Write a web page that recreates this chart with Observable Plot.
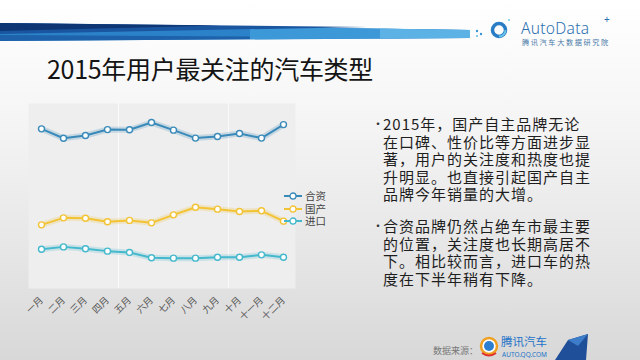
<!DOCTYPE html>
<html><head><meta charset="utf-8">
<script src="https://cdn.jsdelivr.net/npm/d3@7"></script>
<script src="https://cdn.jsdelivr.net/npm/@observablehq/plot@0.6"></script>
<style>
html,body{margin:0;padding:0;}
body{width:640px;height:360px;overflow:hidden;position:relative;font-family:"Noto Sans CJK SC","Noto Sans",sans-serif;
background:linear-gradient(180deg,#ffffff 0%,#f6f6f6 30%,#e6e6e6 70%,#d8d8d8 100%);}
.abs{position:absolute;}
#title{left:47px;top:50px;font-size:25px;color:#141414;letter-spacing:-0.3px;white-space:nowrap;}
#notes{left:372px;top:115px;width:250px;font-size:15px;line-height:17.6px;letter-spacing:1px;color:#1e1e1e;}
.para{position:relative;padding-left:11px;white-space:nowrap;}
.para:before{content:"•";position:absolute;left:0;top:0;font-size:12px;color:#333;}
.para+.para{margin-top:14px;}
#legend{left:283px;top:190px;font-size:10.5px;color:#444;line-height:12.5px;}
#legend .row{display:flex;align-items:center;height:12.6px;}
#legend svg{margin-right:2px;}
#chart{left:0;top:95px;}
#src{left:433px;top:344px;font-size:9px;color:#777;}
</style></head>
<body>
<div id="title" class="abs">2015年用户最关注的汽车类型</div>
<div id="chart" class="abs"></div>
<div id="legend" class="abs"></div>
<div id="notes" class="abs">
  <div class="para">2015年，国产自主品牌无论<br>在口碑、性价比等方面进步显<br>著，用户的关注度和热度也提<br>升明显。也直接引起国产自主<br>品牌今年销量的大增。</div>
  <div class="para">合资品牌仍然占绝车市最主要<br>的位置，关注度也长期高居不<br>下。相比较而言，进口车的热<br>度在下半年稍有下降。</div>
</div>
<div id="src" class="abs">数据来源：</div>
<svg class="abs" style="left:478px;top:334px" width="162" height="26">
  <circle cx="11" cy="12" r="8" fill="#fff" stroke="#f0a020" stroke-width="2.5"/>
  <circle cx="11" cy="12" r="5" fill="#2c7fd0"/>
  <path d="M4,19 Q11,24 18,19" stroke="#e03030" stroke-width="2" fill="none"/>
  <text x="23" y="12" font-size="11.5" fill="#1d73c8" font-family="Noto Sans CJK SC">腾讯汽车</text>
  <text x="24" y="23" font-size="6.5" fill="#1d73c8" font-family="Noto Sans,sans-serif">AUTO.QQ.COM</text>
  <polygon points="77,26 90,6 110,0 108,26" fill="#1e4f98"/>
  <polygon points="90,6 110,0 100,12" fill="#3d7cc8"/>
</svg>
<svg class="abs" style="left:0;top:0" width="470" height="50">
  <polygon points="0,23 470,30 470,38 0,41" fill="#2c82c8"/>
  <polygon points="250,26.7 470,30 470,38 250,39.2" fill="#3d98d8"/>
  <polygon points="380,28.6 470,30 470,38 380,38.6" fill="#5cb2e4"/>
  <polygon points="0,35 250,36.5 250,39.2 0,41" fill="#1d62aa"/>
  <polygon points="0,23 367,27 0,34" fill="#1a56a0"/>
  <polygon points="0,23 220,25.4 0,31" fill="#0e3674"/>
</svg>
<svg class="abs" style="left:470px;top:10px" width="170" height="40">
  <circle cx="7" cy="21" r="1.2" fill="#3b95d6"/><circle cx="11" cy="24" r="1.2" fill="#3b95d6"/><circle cx="7" cy="26" r="1.1" fill="#6cbfe8"/>
  <circle cx="29" cy="20" r="6.5" fill="none" stroke="#2a7cc4" stroke-width="3.5"/>
  <circle cx="29" cy="20" r="6.5" fill="none" stroke="#6cc7e8" stroke-width="1.8" stroke-dasharray="10 40"/>
  <circle cx="39" cy="10" r="1" fill="#6cc7e8"/>
  <text x="51" y="23.5" font-size="15.5" fill="#2a6fb0" font-family="Noto Sans,sans-serif" font-weight="300" letter-spacing="0.3">AutoData</text>
  <text x="134" y="13" font-size="10" fill="#2a6fb0" font-family="Noto Sans,sans-serif">+</text>
  <text x="52" y="35" font-size="7.2" fill="#4a7aa8" font-family="Noto Sans CJK SC" letter-spacing="1.6">腾讯汽车大数据研究院</text>
</svg>
<script>
const months = ["一月","二月","三月","四月","五月","六月","七月","八月","九月","十月","十一月","十二月"];
const seriesNames = ["合资","国产","进口"];
const seriesColors = ["#3a8ab9","#f2c335","#44b8cc"];
const hezi    = [86.3,81.2,82.7,85.9,85.8,89.7,85.6,81.3,82.2,83.8,81.3,88.6];
const guochan = [34.4,38.2,38.0,36.1,36.8,35.5,39.8,43.9,42.9,41.6,42.0,36.4];
const jinkou  = [21.2,22.5,21.5,20.2,19.5,16.6,16.4,16.4,16.9,16.9,18.2,16.9];

const seriesValues = [hezi, guochan, jinkou];
const data = seriesNames.flatMap((s, i) => months.map((m, j) => ({series: s, month: m, value: seriesValues[i][j]})));

const chart = Plot.plot({
  width: 340, height: 232,
  marginLeft: 28, marginRight: 45, marginTop: 8, marginBottom: 39,
  style: {background: "transparent", fontFamily: "Noto Sans CJK SC, sans-serif", fontSize: "9.5px", color: "#555"},
  x: {type: "point", domain: months, padding: 0.5, tickRotate: -45, tickSize: 0, tickPadding: 10, label: null},
  y: {domain: [0, 100], axis: null},
  color: {domain: seriesNames, range: seriesColors},
  marks: [
    Plot.frame({fill: "#eeeeee", stroke: null}),
    Plot.ruleX(["四月", "九月"], {dx: 11, stroke: "#ffffff", strokeOpacity: 0.7}),
    Plot.line(data, {x: "month", y: "value", z: "series", stroke: "series", strokeWidth: 6, strokeOpacity: 0.22}),
    Plot.line(data, {x: "month", y: "value", z: "series", stroke: "series", strokeWidth: 2}),
    Plot.dot(data, {x: "month", y: "value", stroke: "series", fill: "white", r: 3, strokeWidth: 1.4})
  ]
});
document.getElementById("chart").appendChild(chart);

const legend = document.getElementById("legend");
seriesNames.forEach((s, i) => {
  const row = document.createElement("div");
  row.className = "row";
  row.innerHTML = `<svg width="20" height="10"><line x1="1" y1="5" x2="19" y2="5" stroke="${seriesColors[i]}" stroke-width="2"/><circle cx="10" cy="5" r="3" fill="white" stroke="${seriesColors[i]}" stroke-width="1.3"/></svg><span>${s}</span>`;
  legend.appendChild(row);
});
</script>
</body></html>
